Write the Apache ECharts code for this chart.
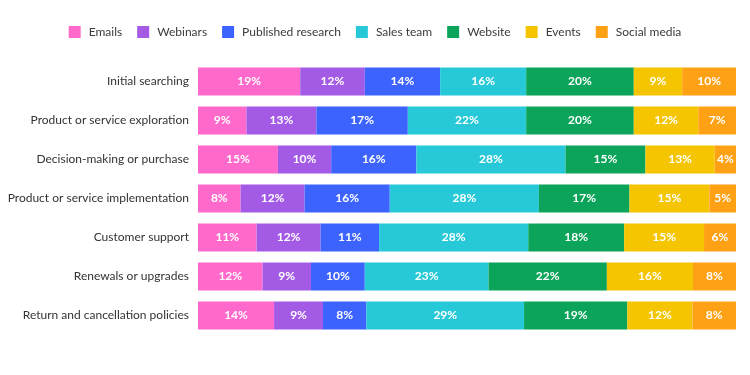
<!DOCTYPE html>
<html>
<head>
<meta charset="utf-8">
<script src="https://cdn.jsdelivr.net/npm/echarts@6/dist/echarts.min.js"></script>
<style>
  html, body { margin: 0; padding: 0; background: #fff; }
  #main { width: 750px; height: 375px; }
</style>
</head>
<body>
<div id="main"></div>
<script>
// stages of the journey (top to bottom)
var stages = [
    'Initial searching',
    'Product or service exploration',
    'Decision-making or purchase',
    'Product or service implementation',
    'Customer support',
    'Renewals or upgrades',
    'Return and cancellation policies'
];

var emails     = [19, 9, 15, 8, 11, 12, 14];
var webinars   = [12, 13, 10, 12, 12, 9, 9];
var research   = [14, 17, 16, 16, 11, 10, 8];
var salesTeam  = [16, 22, 28, 28, 28, 23, 29];
var website    = [20, 20, 15, 17, 18, 22, 19];
var events     = [9, 12, 13, 15, 15, 16, 12];
var social     = [10, 7, 4, 5, 6, 8, 8];

var seriesDefs = [
    {name: 'Emails', data: emails, color: '#FF69CB'},
    {name: 'Webinars', data: webinars, color: '#A35BE6'},
    {name: 'Published research', data: research, color: '#3D63FF'},
    {name: 'Sales team', data: salesTeam, color: '#27C9D8'},
    {name: 'Website', data: website, color: '#0CA45B'},
    {name: 'Events', data: events, color: '#F4C500'},
    {name: 'Social media', data: social, color: '#FFA114'}
];

// rounded shares don't always add to 100, bars still fill the full row
var rowTotals = stages.map(function (s, i) {
    var t = 0;
    seriesDefs.forEach(function (d) { t += d.data[i]; });
    return t;
});

var myChart = echarts.init(document.getElementById('main'), null, {renderer: 'canvas'});

var option = {
    backgroundColor: '#fff',
    animation: false,
    legend: {
        top: 21,
        left: 'center',
        itemWidth: 12,
        itemHeight: 12,
        itemGap: 15,
        icon: 'rect',
        textStyle: {
            color: '#3a3a3a',
            fontSize: 12,
            fontFamily: 'Lato',
            padding: [0, 0, 0, 3]
        },
        data: seriesDefs.map(function (d) { return d.name; })
    },
    grid: {
        left: 198,
        right: 14,
        top: 62,
        bottom: 40,
        containLabel: false,
        outerBoundsMode: 'none'
    },
    xAxis: {
        type: 'value',
        min: 0,
        max: 100,
        show: false
    },
    yAxis: {
        type: 'category',
        inverse: true,
        data: stages,
        axisLine: {show: false},
        axisTick: {show: false},
        axisLabel: {
            color: '#333',
            fontSize: 12,
            fontFamily: 'Lato',
            margin: 9
        }
    },
    series: seriesDefs.map(function (d) {
        return {
            name: d.name,
            type: 'bar',
            stack: 'total',
            barWidth: 28,
            itemStyle: {color: d.color},
            label: {
                show: true,
                position: 'inside',
                color: '#fff',
                fontWeight: 'bold',
                fontSize: 12,
                fontFamily: 'Lato',
                formatter: function (p) {
                    return d.data[p.dataIndex] + '%';
                }
            },
            data: d.data.map(function (v, i) {
                return v / rowTotals[i] * 100;
            })
        };
    })
};

option && myChart.setOption(option);
</script>
</body>
</html>
